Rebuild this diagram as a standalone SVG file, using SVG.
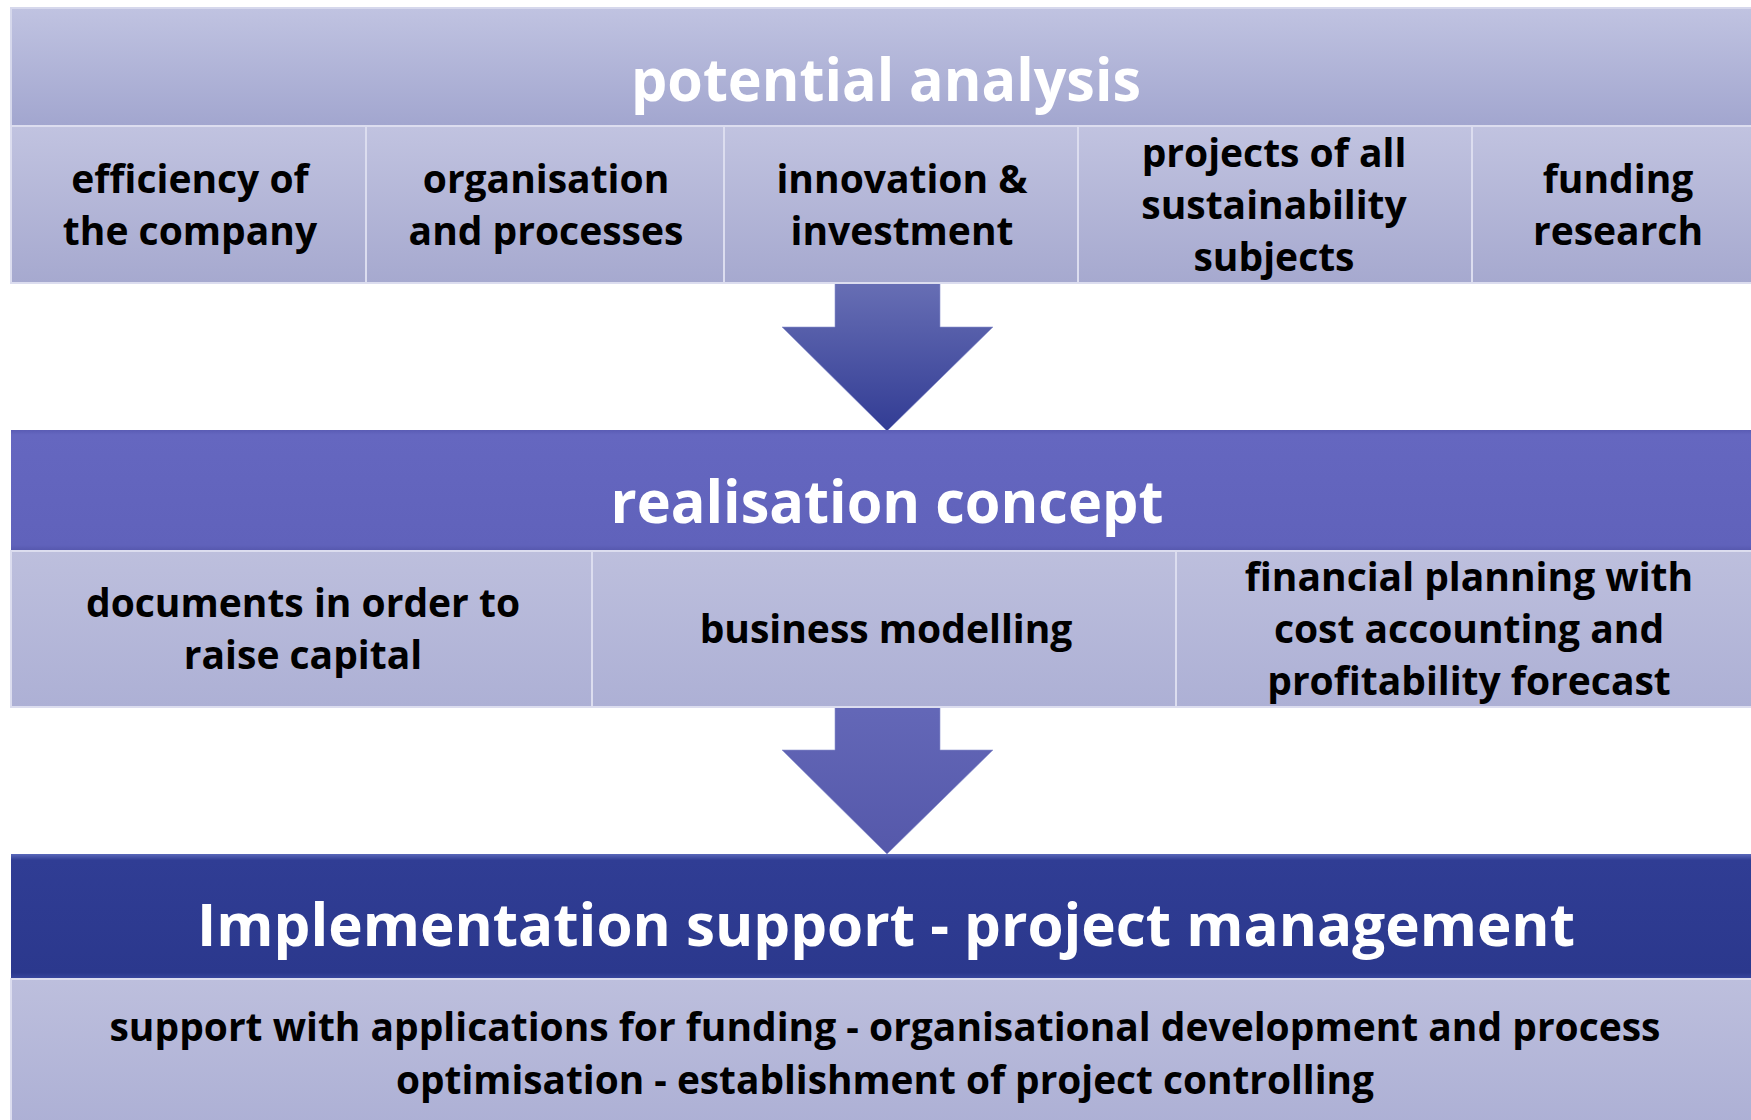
<svg xmlns="http://www.w3.org/2000/svg" width="1751" height="1120" viewBox="0 0 1751 1120">
<defs>
  <linearGradient id="gHead1" x1="0" y1="0" x2="0" y2="1">
    <stop offset="0" stop-color="#c0c3e1"/>
    <stop offset="1" stop-color="#a2a6cf"/>
  </linearGradient>
  <linearGradient id="gCell" x1="0" y1="0" x2="0" y2="1">
    <stop offset="0" stop-color="#c1c3e0"/>
    <stop offset="1" stop-color="#a6a9cf"/>
  </linearGradient>
  <linearGradient id="gCell2" x1="0" y1="0" x2="0" y2="1">
    <stop offset="0" stop-color="#bdbfdd"/>
    <stop offset="1" stop-color="#adb0d5"/>
  </linearGradient>
  <linearGradient id="gHead2" x1="0" y1="0" x2="0" y2="1">
    <stop offset="0" stop-color="#5a5cb4"/>
    <stop offset="0.04" stop-color="#6567c0"/>
    <stop offset="0.95" stop-color="#6062bb"/>
    <stop offset="1" stop-color="#5557ad"/>
  </linearGradient>
  <linearGradient id="gHead3" x1="0" y1="0" x2="0" y2="1">
    <stop offset="0" stop-color="#5a68ba"/>
    <stop offset="0.05" stop-color="#303d94"/>
    <stop offset="0.95" stop-color="#2b388d"/>
    <stop offset="1" stop-color="#3a48a0"/>
  </linearGradient>
  <linearGradient id="gArrow1" x1="0" y1="0" x2="0" y2="1">
    <stop offset="0" stop-color="#6a71b6"/>
    <stop offset="1" stop-color="#323c94"/>
  </linearGradient>
  <linearGradient id="gArrow2" x1="0" y1="0" x2="0" y2="1">
    <stop offset="0" stop-color="#6468b8"/>
    <stop offset="1" stop-color="#5558aa"/>
  </linearGradient>
  <style>
    .hd { font-family: "Open Sans", "Liberation Sans", sans-serif; font-weight: 700; font-size: 59px; fill: #ffffff; text-anchor: middle; }
    .tx { font-family: "Open Sans", "Liberation Sans", sans-serif; font-weight: 700; font-size: 39px; fill: #000000; text-anchor: middle; }
    .cell { stroke: #dcddef; stroke-width: 2; }
    .cellR1 { fill: url(#gCell); }
    .cellR2 { fill: url(#gCell2); }
    .arrowEdge { stroke: #8c93cf; stroke-width: 1; stroke-opacity: 0.6; }
  </style>
</defs>
<rect x="0" y="0" width="1751" height="1120" fill="#ffffff"/>

<g id="connectors">
  <path id="arrow1" class="arrowEdge" fill="url(#gArrow1)" d="M835,275 L940,275 L940,327 L993,327 L887,431 L782,327 L835,327 Z"/>
  <path id="arrow2" class="arrowEdge" fill="url(#gArrow2)" d="M835,700 L940,700 L940,750 L993,750 L887,854 L782,750 L835,750 Z"/>
</g>

<g id="potential-analysis">
  <rect x="11" y="8" width="1745" height="118" fill="url(#gHead1)" stroke="#d6d8ec" stroke-width="2"/>
  <text class="hd" x="886" y="101" textLength="510" lengthAdjust="spacingAndGlyphs">potential analysis</text>
</g>
<g id="efficiency">
  <rect class="cell cellR1" x="11" y="126" width="355" height="157"/>
  <text class="tx" x="190" y="193">efficiency of</text>
  <text class="tx" x="190" y="245">the company</text>
</g>
<g id="organisation">
  <rect class="cell cellR1" x="366" y="126" width="358" height="157"/>
  <text class="tx" x="546" y="193">organisation</text>
  <text class="tx" x="546" y="245">and processes</text>
</g>
<g id="innovation">
  <rect class="cell cellR1" x="724" y="126" width="354" height="157"/>
  <text class="tx" x="902" y="193">innovation &amp;</text>
  <text class="tx" x="902" y="245">investment</text>
</g>
<g id="projects">
  <rect class="cell cellR1" x="1078" y="126" width="394" height="157"/>
  <text class="tx" x="1274" y="167">projects of all</text>
  <text class="tx" x="1274" y="219">sustainability</text>
  <text class="tx" x="1274" y="271">subjects</text>
</g>
<g id="funding">
  <rect class="cell cellR1" x="1472" y="126" width="284" height="157"/>
  <text class="tx" x="1618" y="193">funding</text>
  <text class="tx" x="1618" y="245">research</text>
</g>

<g id="realisation-concept">
  <rect x="11" y="430" width="1745" height="121" fill="url(#gHead2)"/>
  <text class="hd" x="887" y="523" textLength="553" lengthAdjust="spacingAndGlyphs">realisation concept</text>
</g>
<g id="documents">
  <rect class="cell cellR2" x="11" y="551" width="581" height="156"/>
  <text class="tx" x="303" y="617">documents in order to</text>
  <text class="tx" x="303" y="669">raise capital</text>
</g>
<g id="business-modelling">
  <rect class="cell cellR2" x="592" y="551" width="584" height="156"/>
  <text class="tx" x="886" y="643">business modelling</text>
</g>
<g id="financial-planning">
  <rect class="cell cellR2" x="1176" y="551" width="580" height="156"/>
  <text class="tx" x="1469" y="591">financial planning with</text>
  <text class="tx" x="1469" y="643">cost accounting and</text>
  <text class="tx" x="1469" y="695">profitability forecast</text>
</g>

<g id="implementation-support">
  <rect x="11" y="854" width="1745" height="125" fill="url(#gHead3)"/>
  <text class="hd" x="886" y="946" textLength="1378" lengthAdjust="spacingAndGlyphs">Implementation support - project management</text>
</g>
<g id="support-details">
  <rect class="cell cellR2" x="11" y="979" width="1745" height="145"/>
  <text class="tx" x="885" y="1041" textLength="1551" lengthAdjust="spacingAndGlyphs">support with applications for funding - organisational development and process</text>
  <text class="tx" x="885" y="1094" textLength="978" lengthAdjust="spacingAndGlyphs">optimisation - establishment of project controlling</text>
</g>
</svg>
